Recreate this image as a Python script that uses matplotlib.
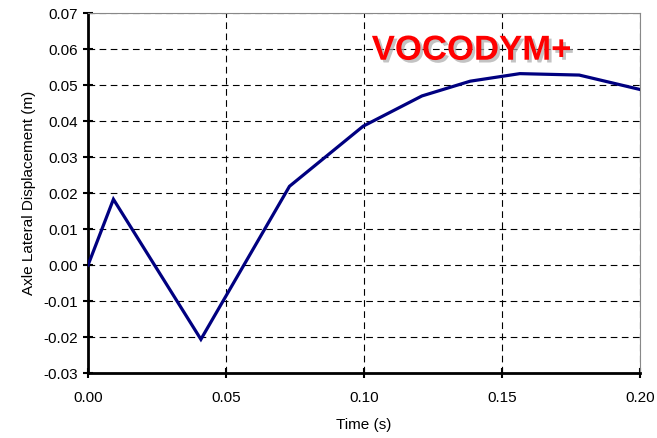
import matplotlib
matplotlib.use('Agg')
import matplotlib.pyplot as plt
import matplotlib.patheffects as pe

plt.rcParams['font.family'] = ['Liberation Sans', 'DejaVu Sans']

# Axle lateral displacement vs time
time_s = [0.0, 0.0092, 0.0409, 0.0730, 0.0997, 0.1210, 0.1385, 0.1565, 0.1780, 0.2000]
disp_m = [0.0, 0.0183, -0.0206, 0.0219, 0.0386, 0.0470, 0.0511, 0.0532, 0.0528, 0.0488]

x_ticks = [0.0, 0.05, 0.10, 0.15, 0.20]
y_ticks = [-0.03, -0.02, -0.01, 0.0, 0.01, 0.02, 0.03, 0.04, 0.05, 0.06, 0.07]

fig = plt.figure(figsize=(6.57, 4.38), dpi=100)
ax = fig.add_axes([0.134, 0.148, 0.840, 0.822])

ax.plot(time_s, disp_m, color='#000080', lw=2.3, solid_joinstyle='miter', zorder=3)

ax.set_xlim(0, 0.2)
ax.set_ylim(-0.03, 0.07)
ax.set_xticks(x_ticks)
ax.set_yticks(y_ticks)
ax.set_xticklabels(['%.2f' % v for v in x_ticks])
ax.set_yticklabels(['%.2f' % v for v in y_ticks])
ax.tick_params(direction='inout', length=7, width=1.5, labelsize=11, color='black')
ax.tick_params(axis='x', pad=9)
ax.tick_params(axis='y', pad=4)

ax.grid(True, color='black', linestyle=(0, (6, 4)), lw=0.8)
for s in ('left', 'bottom'):
    ax.spines[s].set_linewidth(2)
    ax.spines[s].set_color('black')
for s in ('top', 'right'):
    ax.spines[s].set_linewidth(0.8)
    ax.spines[s].set_color('#888888')

ax.set_xlabel('Time (s)', fontsize=11, labelpad=10)
ax.set_ylabel('Axle Lateral Displacement (m)', fontsize=11, labelpad=5)

ax.text(0.139, 0.0597, 'VOCODYM+', color='#ff0000', fontsize=25, fontweight='bold',
        ha='center', va='center', zorder=4,
        path_effects=[pe.SimplePatchShadow(offset=(2, -2), shadow_rgbFace='#aaaaaa', alpha=0.7),
                      pe.Normal()])

fig.savefig('out.png', dpi=100)
